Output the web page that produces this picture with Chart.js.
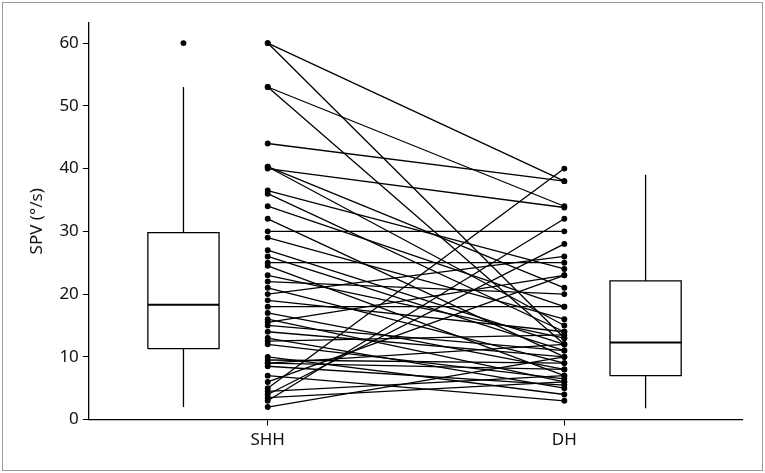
<!DOCTYPE html>
<html><head><meta charset="utf-8">
<script src="https://cdn.jsdelivr.net/npm/chart.js@4.4.1/dist/chart.umd.min.js"></script>
<style>
html,body{margin:0;padding:0;background:#fff;}
#wrap{position:absolute;left:2px;top:2px;width:759px;height:467px;border:1px solid #9a9a9a;}
canvas{position:absolute;left:0;top:0;}
</style></head><body>
<div id="wrap"><canvas id="c" width="759" height="467"></canvas></div>
<script>
const categories = ['SHH', 'DH'];
const shhValues = [60,60,53,53,44,40.3,40.3,40,36.5,36,34,32,30,29,27,26,25,24.5,23,22,21,20,19,18,17,16,15.5,15,14,13,12.5,12,10,9.5,9,9,8.5,7,6,5,4.5,4,3.5,3,2];
const dhValues  = [38,13,34,12,38,21,15,33.8,24,14,18,10,30,16,12,11,25,7,13,20,9,26,14,18,8,6,23,11,10,5,13.5,6.5,4,9,12,8,5.5,3,23,40,7,28,6,32,10];
// box stats: [min, q1, median, q3, max]
const shhBox = [2, 11.3, 18.3, 29.8, 53];
const dhBox = [1.8, 7, 12.3, 22.1, 39];
const shhOutliers = [60];
const yTicks = [0,10,20,30,40,50,60];

const catPos = [1, 2];
const boxPos = [0.716, 2.274];
const boxHalf = 0.12;

const datasets = [];
const line = {showLine:true, borderColor:'#000', backgroundColor:'#000', borderWidth:1.3, pointRadius:0, fill:false};
for (let i = 0; i < shhValues.length; i++) {
  datasets.push({...line, pointRadius:2.3, data:[{x:catPos[0], y:shhValues[i]}, {x:catPos[1], y:dhValues[i]}]});
}
function boxSets(x, s) {
  const l = x - boxHalf, r = x + boxHalf;
  return [
    {...line, data:[{x:l,y:s[1]},{x:r,y:s[1]},{x:r,y:s[3]},{x:l,y:s[3]},{x:l,y:s[1]}]},
    {...line, borderWidth:2, data:[{x:l,y:s[2]},{x:r,y:s[2]}]},
    {...line, data:[{x:x,y:s[0]},{x:x,y:s[1]}]},
    {...line, data:[{x:x,y:s[3]},{x:x,y:s[4]}]}
  ];
}
datasets.push(...boxSets(boxPos[0], shhBox), ...boxSets(boxPos[1], dhBox));
datasets.push({...line, showLine:false, pointRadius:2.3, data: shhOutliers.map(v=>({x:boxPos[0], y:v}))});

const F = {family:'Noto Sans', size:17};
new Chart(document.getElementById('c'), {
  type: 'scatter',
  data: {datasets},
  options: {
    responsive:false, animation:false,
    layout:{padding:{top:20, right:20, left:16, bottom:16}},
    plugins:{legend:{display:false}, tooltip:{enabled:false}},
    scales:{
      x:{type:'linear', min:0.397, max:2.599,
        afterBuildTicks:(a)=>{a.ticks = catPos.map(v=>({value:v}));},
        ticks:{callback:(v)=>categories[catPos.indexOf(v)] ?? '', color:'#111', font:F, padding:4},
        grid:{drawOnChartArea:false, color:'#000', tickLength:6},
        border:{color:'#000', width:1.3}},
      y:{type:'linear', min:0, max:63.2,
        afterBuildTicks:(a)=>{a.ticks = yTicks.map(v=>({value:v}));},
        ticks:{color:'#111', font:F, padding:4},
        grid:{drawOnChartArea:false, color:'#000', tickLength:6},
        border:{color:'#000', width:1.3},
        title:{display:true, text:'SPV (°/s)', color:'#111', font:F, padding:8}}
    }
  }
});
</script></body></html>
